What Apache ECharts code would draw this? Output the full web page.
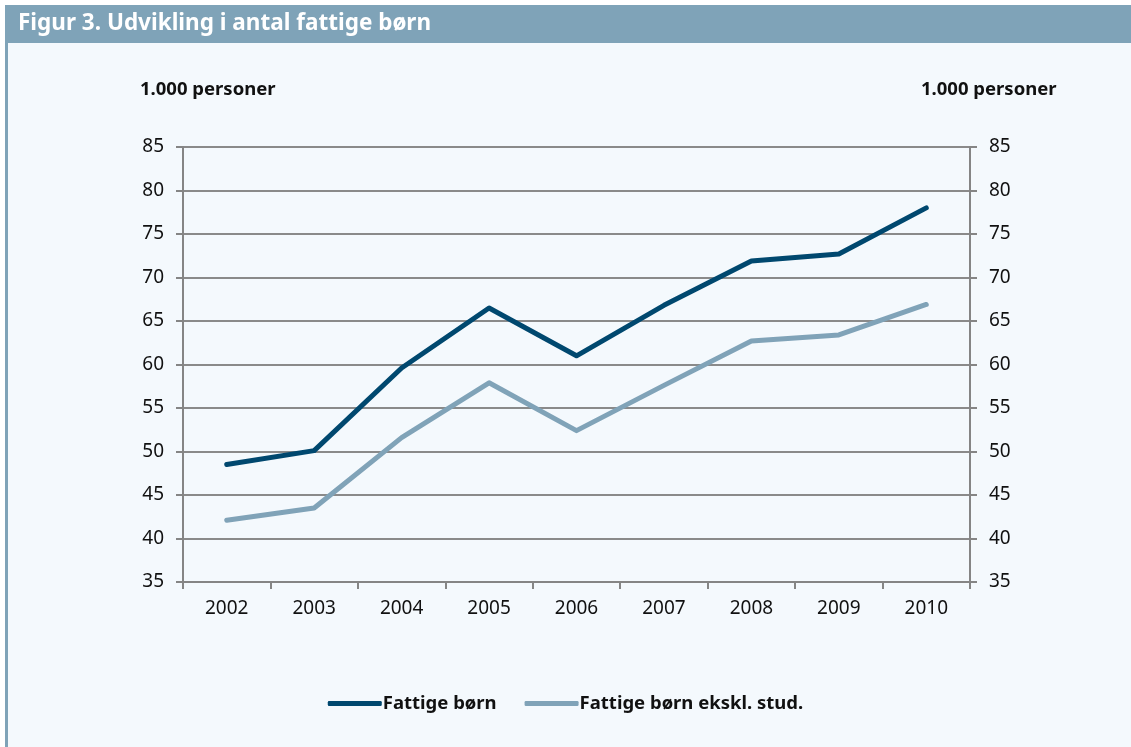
<!DOCTYPE html>
<html><head><meta charset="utf-8">
<script src="https://cdn.jsdelivr.net/npm/echarts@6/dist/echarts.min.js"></script>
<style>html,body{margin:0;padding:0;background:#fff;}#c{width:1131px;height:747px;}</style>
</head><body><div id="c"></div>
<script>
const years = ['2002','2003','2004','2005','2006','2007','2008','2009','2010'];
const fattigeBoern = [48.5, 50.1, 59.6, 66.5, 61.0, 66.8, 71.9, 72.7, 78.0];
const fattigeEksklStud = [42.1, 43.5, 51.6, 57.9, 52.4, 57.6, 62.7, 63.4, 66.9];
const seriesNames = ['Fattige børn', 'Fattige børn ekskl. stud.'];
const titleText = 'Figur 3. Udvikling i antal fattige børn';
const unitText = '1.000 personer';

const chart = echarts.init(document.getElementById('c'));
const font = 'Noto Sans';
const axisCommon = {
  type: 'value', min: 35, max: 85, interval: 5,
  axisLine: {show: true, lineStyle: {color: '#858585', width: 2}},
  axisTick: {show: true, length: 7, lineStyle: {color: '#858585', width: 2}},
  axisLabel: {color: '#111', fontFamily: font, fontSize: 19, margin: 19},
  splitLine: {show: true, lineStyle: {color: '#8a8a8a', width: 2}}
};
chart.setOption({
  backgroundColor: '#f4f9fd',
  animation: false,
  graphic: [
    {type: 'rect', shape: {x: 5, y: 0, width: 1126, height: 5}, style: {fill: '#ffffff'}, silent: true},
    {type: 'rect', shape: {x: 0, y: 0, width: 5, height: 747}, style: {fill: '#ffffff'}, silent: true},
    {type: 'rect', shape: {x: 5, y: 5, width: 1126, height: 38}, style: {fill: '#7fa3b8'}, silent: true},
    {type: 'rect', shape: {x: 5, y: 43, width: 3, height: 704}, style: {fill: '#7fa3b8'}, silent: true},
    {type: 'text', left: 18, top: 12, style: {text: titleText, fill: '#ffffff', font: 'bold 22.5px "Noto Sans"'}},
    {type: 'text', left: 140, top: 80, style: {text: unitText, fill: '#111', font: 'bold 18.5px "Noto Sans"'}},
    {type: 'text', left: 921, top: 80, style: {text: unitText, fill: '#111', font: 'bold 18.5px "Noto Sans"'}}
  ],
  grid: {left: 183, right: 161, top: 147, bottom: 165},
  legend: {
    bottom: 29, left: 'center', itemWidth: 54, itemHeight: 5, itemGap: 28,
    icon: 'roundRect',
    textStyle: {fontFamily: font, fontWeight: 'bold', fontSize: 18.5, color: '#111', padding: [0,0,0,-4]},
    data: seriesNames
  },
  xAxis: {
    type: 'category', data: years, boundaryGap: true,
    axisLine: {lineStyle: {color: '#858585', width: 2}},
    axisTick: {show: true, length: 7, interval: 0, lineStyle: {color: '#858585', width: 2}},
    axisLabel: {color: '#111', fontFamily: font, fontSize: 19, margin: 17}
  },
  yAxis: [
    Object.assign({}, axisCommon, {position: 'left'}),
    Object.assign({}, axisCommon, {position: 'right', splitLine: {show: false}})
  ],
  series: [
    {name: seriesNames[0], type: 'line', data: fattigeBoern, showSymbol: false, symbol: 'none',
     lineStyle: {color: '#00486f', width: 5, cap: 'round', join: 'round'}, itemStyle: {color: '#00486f'}},
    {name: seriesNames[1], type: 'line', data: fattigeEksklStud, showSymbol: false, symbol: 'none',
     lineStyle: {color: '#80a3b8', width: 5, cap: 'round', join: 'round'}, itemStyle: {color: '#80a3b8'}}
  ]
});
</script></body></html>
